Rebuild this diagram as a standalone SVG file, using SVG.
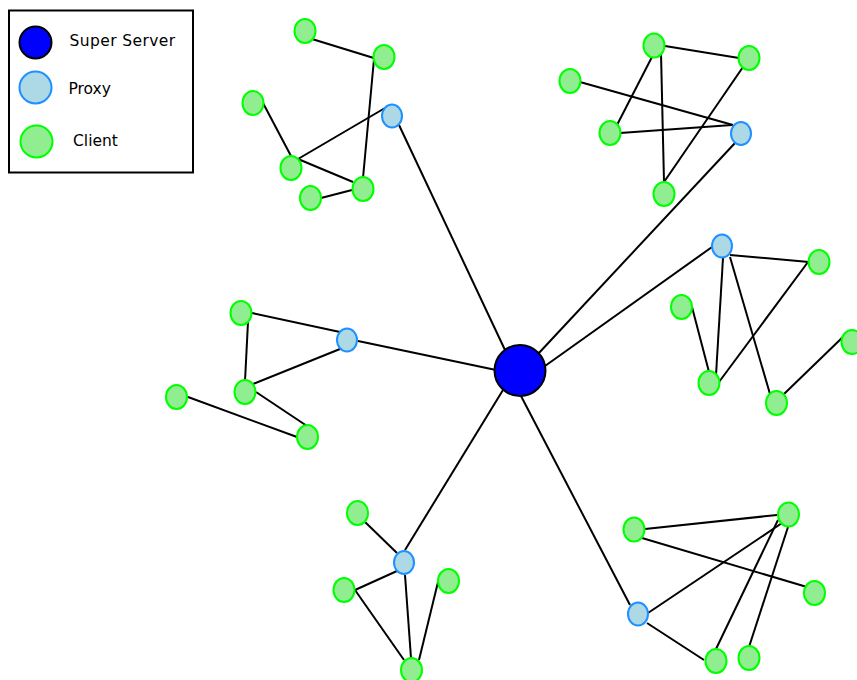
<svg xmlns="http://www.w3.org/2000/svg" width="857" height="680" viewBox="0 0 857 680">
  <style>
    .edge { stroke: #000; stroke-width: 2; fill: none; }
    .server { fill: #0000ff; stroke: #000; stroke-width: 2; }
    .proxy { fill: #add8e6; stroke: #1e90ff; stroke-width: 2; }
    .client { fill: #90ee90; stroke: #00ff00; stroke-width: 2; }
    .label { font-family: "DejaVu Sans", Verdana, sans-serif; font-size: 15.5px; fill: #000; }
  </style>
  <rect width="857" height="680" fill="#fff"/>

  <!-- Legend -->
  <g id="legend">
    <rect x="9" y="10.5" width="184" height="162" fill="#fff" stroke="#000" stroke-width="2"/>
    <circle class="server" cx="35.5" cy="42.5" r="16"/>
    <circle class="proxy" cx="35.5" cy="87.5" r="16"/>
    <circle class="client" cx="36.5" cy="141.5" r="16"/>
    <text class="label" x="69.5" y="46" letter-spacing="0.4">Super Server</text>
    <text class="label" x="68.5" y="94">Proxy</text>
    <text class="label" x="73" y="145.5">Client</text>
  </g>

  <!-- Connectors -->
  <g id="connectors" class="edge">
    <!-- server to proxies -->
    <line x1="399" y1="125" x2="505" y2="350"/>
    <line x1="735" y1="143" x2="538" y2="354"/>
    <line x1="712" y1="247" x2="545" y2="366"/>
    <line x1="358" y1="341" x2="496" y2="370"/>
    <line x1="405" y1="550" x2="503" y2="390"/>
    <line x1="630" y1="605" x2="521" y2="396"/>
    <!-- top-left cluster -->
    <line x1="312" y1="39" x2="377" y2="59"/>
    <line x1="374" y1="59" x2="363" y2="178"/>
    <line x1="263" y1="103" x2="291" y2="156"/>
    <line x1="298" y1="159" x2="385" y2="108"/>
    <line x1="298" y1="159" x2="353" y2="182"/>
    <line x1="321" y1="198" x2="352" y2="190"/>
    <!-- top-right cluster -->
    <line x1="665" y1="46" x2="739" y2="58"/>
    <line x1="653" y1="55" x2="617" y2="125"/>
    <line x1="661" y1="53" x2="664" y2="182"/>
    <line x1="743" y1="67" x2="664" y2="182"/>
    <line x1="580" y1="82" x2="733" y2="125"/>
    <line x1="620" y1="133" x2="732" y2="125"/>
    <!-- right cluster -->
    <line x1="730" y1="255" x2="809" y2="262"/>
    <line x1="723" y1="258" x2="716" y2="375"/>
    <line x1="730" y1="257" x2="770" y2="394"/>
    <line x1="808" y1="262" x2="719" y2="382"/>
    <line x1="692" y1="307" x2="709" y2="372"/>
    <line x1="784" y1="394" x2="846" y2="334"/>
    <!-- left cluster -->
    <line x1="252" y1="313" x2="340" y2="332"/>
    <line x1="248" y1="322" x2="245" y2="381"/>
    <line x1="253" y1="384" x2="340" y2="349"/>
    <line x1="256" y1="392" x2="307" y2="426"/>
    <line x1="188" y1="397" x2="297" y2="437"/>
    <!-- bottom cluster -->
    <line x1="365" y1="522" x2="397" y2="553"/>
    <line x1="397" y1="571" x2="355" y2="590"/>
    <line x1="355" y1="590" x2="404" y2="660"/>
    <line x1="405" y1="575" x2="411" y2="658"/>
    <line x1="438" y1="582" x2="419" y2="660"/>
    <!-- bottom-right cluster -->
    <line x1="645" y1="529" x2="777" y2="515"/>
    <line x1="642" y1="538" x2="807" y2="587"/>
    <line x1="648" y1="613" x2="782" y2="523"/>
    <line x1="647" y1="623" x2="704" y2="660"/>
    <line x1="716" y1="649" x2="778" y2="520"/>
    <line x1="749" y1="647" x2="788" y2="527"/>
  </g>

  <!-- Super server -->
  <g id="super-server">
    <circle class="server" cx="520" cy="370.5" r="25.5"/>
  </g>

  <!-- Proxies -->
  <g id="proxy-1"><ellipse class="proxy" cx="392" cy="116" rx="10" ry="11.5"/></g>
  <g id="proxy-2"><ellipse class="proxy" cx="741" cy="133.5" rx="10" ry="11.5"/></g>
  <g id="proxy-3"><ellipse class="proxy" cx="722" cy="246" rx="10" ry="11.5"/></g>
  <g id="proxy-4"><ellipse class="proxy" cx="347" cy="340" rx="10" ry="11.5"/></g>
  <g id="proxy-5"><ellipse class="proxy" cx="404" cy="562.5" rx="10" ry="11.5"/></g>
  <g id="proxy-6"><ellipse class="proxy" cx="638" cy="614" rx="10" ry="11.5"/></g>

  <!-- Clients -->
  <g id="client-1"><ellipse class="client" cx="305" cy="31" rx="10.5" ry="12"/></g>
  <g id="client-2"><ellipse class="client" cx="384" cy="57" rx="10.5" ry="12"/></g>
  <g id="client-3"><ellipse class="client" cx="253" cy="103" rx="10.5" ry="12"/></g>
  <g id="client-4"><ellipse class="client" cx="291" cy="168" rx="10.5" ry="12"/></g>
  <g id="client-5"><ellipse class="client" cx="363" cy="189" rx="10.5" ry="12"/></g>
  <g id="client-6"><ellipse class="client" cx="310.5" cy="198" rx="10.5" ry="12"/></g>

  <g id="client-7"><ellipse class="client" cx="654" cy="45.5" rx="10.5" ry="12"/></g>
  <g id="client-8"><ellipse class="client" cx="749" cy="58" rx="10.5" ry="12"/></g>
  <g id="client-9"><ellipse class="client" cx="570" cy="81" rx="10.5" ry="12"/></g>
  <g id="client-10"><ellipse class="client" cx="610" cy="133" rx="10.5" ry="12"/></g>
  <g id="client-11"><ellipse class="client" cx="664" cy="194" rx="10.5" ry="12"/></g>

  <g id="client-12"><ellipse class="client" cx="819" cy="262" rx="10.5" ry="12"/></g>
  <g id="client-13"><ellipse class="client" cx="681.5" cy="307" rx="10.5" ry="12"/></g>
  <g id="client-14"><ellipse class="client" cx="709" cy="383" rx="10.5" ry="12"/></g>
  <g id="client-15"><ellipse class="client" cx="776.5" cy="403" rx="10.5" ry="12"/></g>
  <g id="client-16"><ellipse class="client" cx="852" cy="342" rx="10.5" ry="12"/></g>

  <g id="client-17"><ellipse class="client" cx="241" cy="313" rx="10.5" ry="12"/></g>
  <g id="client-18"><ellipse class="client" cx="245" cy="392" rx="10.5" ry="12"/></g>
  <g id="client-19"><ellipse class="client" cx="176.5" cy="397" rx="10.5" ry="12"/></g>
  <g id="client-20"><ellipse class="client" cx="307.5" cy="437" rx="10.5" ry="12"/></g>

  <g id="client-21"><ellipse class="client" cx="357.5" cy="513" rx="10.5" ry="12"/></g>
  <g id="client-22"><ellipse class="client" cx="344" cy="590" rx="10.5" ry="12"/></g>
  <g id="client-23"><ellipse class="client" cx="448.5" cy="581" rx="10.5" ry="12"/></g>
  <g id="client-24"><ellipse class="client" cx="411.5" cy="670" rx="10.5" ry="12"/></g>

  <g id="client-25"><ellipse class="client" cx="634" cy="529.5" rx="10.5" ry="12"/></g>
  <g id="client-26"><ellipse class="client" cx="788.5" cy="514.5" rx="10.5" ry="12"/></g>
  <g id="client-27"><ellipse class="client" cx="814.5" cy="593" rx="10.5" ry="12"/></g>
  <g id="client-28"><ellipse class="client" cx="716" cy="661" rx="10.5" ry="12"/></g>
  <g id="client-29"><ellipse class="client" cx="749" cy="658" rx="10.5" ry="12"/></g>
</svg>
